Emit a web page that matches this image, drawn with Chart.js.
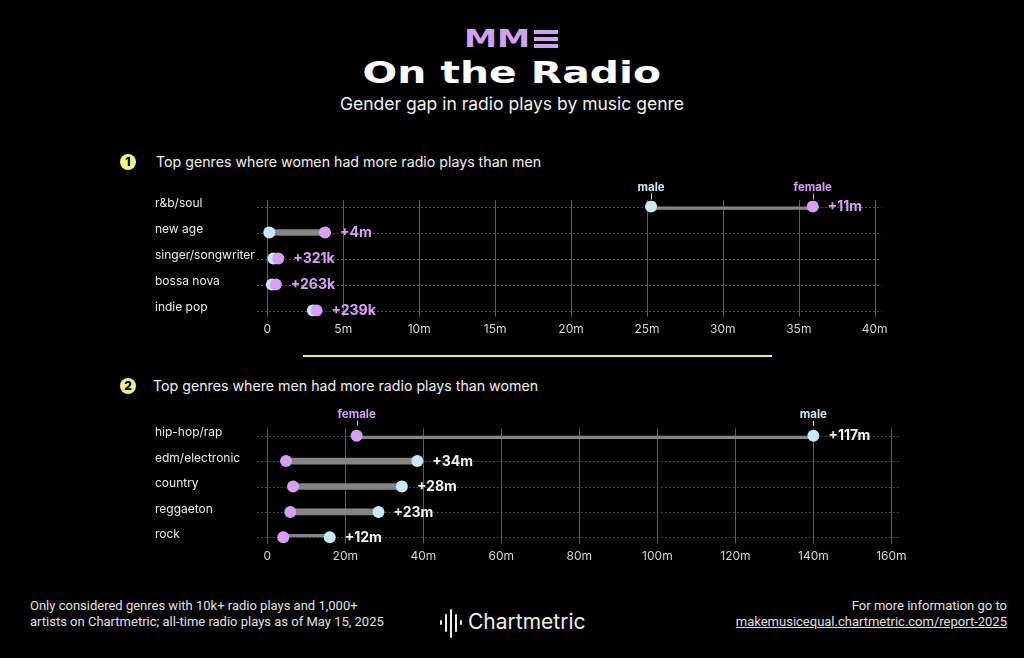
<!DOCTYPE html>
<html><head><meta charset="utf-8">
<script src="https://cdn.jsdelivr.net/npm/chart.js@4.4.1/dist/chart.umd.min.js"></script>
<style>
html,body{margin:0;padding:0;background:#000;}
body{width:1024px;height:658px;position:relative;overflow:hidden;font-family:Inter,"Noto Sans",sans-serif;color:#fff;}
.abs{position:absolute;white-space:nowrap;}
.logo{left:464px;top:24px;font-family:"DejaVu Sans";font-weight:bold;font-size:25px;line-height:30px;color:#cfa3f3;transform:scaleX(1.33);transform-origin:left center;}
.ebar{position:absolute;left:534px;width:24px;height:4px;background:#cfa3f3;}
.title{left:0;width:1024px;top:56px;text-align:center;font-family:"DejaVu Sans";font-weight:bold;font-size:30px;line-height:34px;}
.title span{display:inline-block;transform:scaleX(1.36);}
.subtitle{left:0;width:1024px;top:93px;text-align:center;font-size:17.5px;line-height:22px;color:#f2f2f2;}
.badge{width:16px;height:16px;border-radius:50%;background:#eef28a;color:#000;font-weight:800;font-size:12px;line-height:16px;text-align:center;}
.sec{font-size:14.2px;line-height:20px;color:#f0f0f0;}
.sep{left:303px;top:355px;width:469px;height:2px;background:#e3ec9c;}
.foot{font-family:Roboto,sans-serif;font-size:13px;line-height:16px;color:#e0e0e0;}
.cmbar{position:absolute;width:2px;background:#eee;border-radius:1px;}
canvas{position:absolute;}
</style></head><body>

<div class="abs logo">MM</div>
<div class="ebar" style="top:30px"></div>
<div class="ebar" style="top:37px"></div>
<div class="ebar" style="top:44px"></div>
<div class="abs title"><span>On the Radio</span></div>
<div class="abs subtitle">Gender gap in radio plays by music genre</div>

<div class="abs badge" style="left:120px;top:154px">1</div>
<div class="abs sec" style="left:156px;top:152px">Top genres where women had more radio plays than men</div>
<div class="abs sep"></div>
<div class="abs badge" style="left:120px;top:378px">2</div>
<div class="abs sec" style="left:153px;top:376px">Top genres where men had more radio plays than women</div>

<canvas id="c1" width="820" height="190" style="left:140px;top:160px;width:820px;height:190px"></canvas>
<canvas id="c2" width="820" height="190" style="left:140px;top:390px;width:820px;height:190px"></canvas>

<div class="abs foot" style="left:30px;top:598px">Only considered genres with 10k+ radio plays and 1,000+<br>artists on Chartmetric; all-time radio plays as of May 15, 2025</div>
<div class="abs foot" style="right:17px;top:598px;text-align:right">For more information go to<br><span style="text-decoration:underline">makemusicequal.chartmetric.com/report-2025</span></div>

<div class="cmbar" style="left:440px;top:620px;height:5px"></div>
<div class="cmbar" style="left:445px;top:614px;height:18px"></div>
<div class="cmbar" style="left:450px;top:609px;height:29px"></div>
<div class="cmbar" style="left:455px;top:614px;height:18px"></div>
<div class="cmbar" style="left:460px;top:620px;height:5px"></div>
<div class="abs" style="left:468px;top:608px;font-size:21px;line-height:28px;color:#eee;">Chartmetric</div>

<script>
// ---- Chart 1: genres where women had more radio plays (millions) ----
const genresWomen = ['r&b/soul', 'new age', 'singer/songwriter', 'bossa nova', 'indie pop'];
const womenTopMale = [25.27, 0.13, 0.40, 0.30, 3.00];
const womenTopFemale = [35.92, 3.80, 0.72, 0.56, 3.24];
const womenTopGap = ['+11m', '+4m', '+321k', '+263k', '+239k'];
const ticksWomen = [0, 5, 10, 15, 20, 25, 30, 35, 40];
const tickLabelsWomen = ['0', '5m', '10m', '15m', '20m', '25m', '30m', '35m', '40m'];

// ---- Chart 2: genres where men had more radio plays (millions) ----
const genresMen = ['hip-hop/rap', 'edm/electronic', 'country', 'reggaeton', 'rock'];
const menTopMale = [140.0, 38.45, 34.5, 28.5, 16.0];
const menTopFemale = [22.9, 4.8, 6.6, 5.9, 4.1];
const menTopGap = ['+117m', '+34m', '+28m', '+23m', '+12m'];
const ticksMen = [0, 20, 40, 60, 80, 100, 120, 140, 160];
const tickLabelsMen = ['0', '20m', '40m', '60m', '80m', '100m', '120m', '140m', '160m'];

const MALE_COLOR = '#c6e8f8';
const FEMALE_COLOR = '#d8a0f5';
const FONT = 'Inter, "Noto Sans", sans-serif';

function dumbbellPlugin(o) {
  return {
    id: 'dumbbell',
    beforeDatasetsDraw(chart) {
      const ctx = chart.ctx, a = chart.chartArea, xs = chart.scales.x, ys = chart.scales.y;
      ctx.save();
      ctx.lineWidth = 1;
      ctx.strokeStyle = '#4d4d4d';
      ctx.setLineDash([2, 2]);
      o.labels.forEach((l, i) => {
        const y = Math.round(ys.getPixelForValue(i)) + 0.5;
        ctx.beginPath(); ctx.moveTo(a.left, y); ctx.lineTo(a.right, y); ctx.stroke();
      });
      ctx.setLineDash([]);
      ctx.strokeStyle = '#5e5e5e';
      o.ticks.forEach(v => {
        const x = Math.round(xs.getPixelForValue(v)) + 0.5;
        ctx.beginPath(); ctx.moveTo(x, a.top - o.extTop); ctx.lineTo(x, a.bottom + o.extBottom); ctx.stroke();
      });
      ctx.restore();
    },
    afterDatasetsDraw(chart) {
      const ctx = chart.ctx, xs = chart.scales.x, ys = chart.scales.y;
      ctx.save();
      ctx.textAlign = 'left';
      ctx.textBaseline = 'middle';
      ctx.fillStyle = '#ececec';
      ctx.font = '400 12px ' + FONT;
      o.labels.forEach((l, i) => ctx.fillText(l, o.labelX, ys.getPixelForValue(i) - 3));
      ctx.font = '700 14px ' + FONT;
      ctx.fillStyle = o.gapColor;
      o.gaps.forEach((g, i) => {
        const v = Math.max(o.male[i], o.female[i]);
        ctx.fillText(g, xs.getPixelForValue(v) + 15, ys.getPixelForValue(i) + 0.5);
      });
      // series annotations above the first row
      const y0 = ys.getPixelForValue(0);
      ctx.textAlign = 'center';
      ctx.font = '700 11.5px ' + FONT;
      [[o.male[0], 'male', MALE_COLOR], [o.female[0], 'female', FEMALE_COLOR]].forEach(([v, t, c]) => {
        const x = xs.getPixelForValue(v);
        ctx.fillStyle = c;
        ctx.fillText(t, x, y0 - o.annText);
        ctx.strokeStyle = c; ctx.lineWidth = 1;
        ctx.beginPath();
        ctx.moveTo(Math.round(x) + 0.5, y0 - o.annTickTop);
        ctx.lineTo(Math.round(x) + 0.5, y0 - o.annTickBottom);
        ctx.stroke();
      });
      ctx.restore();
    }
  };
}

function makeChart(id, o) {
  const ctx = document.getElementById(id);
  return new Chart(ctx, {
    type: 'bar',
    data: {
      labels: o.labels,
      datasets: [
        {
          type: 'bar', indexAxis: 'y', order: 3,
          data: o.male.map((m, i) => [Math.min(m, o.female[i]), Math.max(m, o.female[i])]),
          backgroundColor: '#858585', barThickness: 6, borderSkipped: false
        },
        {
          type: 'line', indexAxis: 'y', order: 2, data: o.male, showLine: false,
          pointRadius: 6, pointBackgroundColor: MALE_COLOR, pointBorderWidth: 0, pointHoverRadius: 6
        },
        {
          type: 'line', indexAxis: 'y', order: 1, data: o.female, showLine: false,
          pointRadius: 6, pointBackgroundColor: FEMALE_COLOR, pointBorderWidth: 0, pointHoverRadius: 6
        }
      ]
    },
    options: {
      indexAxis: 'y',
      responsive: false,
      animation: false,
      devicePixelRatio: 1,
      layout: { padding: o.padding },
      plugins: { legend: { display: false }, tooltip: { enabled: false } },
      scales: {
        y: { type: 'category', display: false, offset: false, grid: { display: false } },
        x: {
          type: 'linear', min: o.min, max: o.max,
          grid: { display: false, drawTicks: false },
          border: { display: false },
          afterBuildTicks: s => { s.ticks = o.ticks.map(v => ({ value: v })); },
          afterFit: s => { s.height = 30; },
          ticks: {
            color: '#d4d4d4', padding: o.tickPad, maxRotation: 0, autoSkip: false,
            font: { family: FONT, size: 12 },
            callback: v => o.tickLabels[o.ticks.indexOf(v)]
          }
        }
      }
    },
    plugins: [dumbbellPlugin(o)]
  });
}

makeChart('c1', {
  labels: genresWomen, male: womenTopMale, female: womenTopFemale, gaps: womenTopGap,
  ticks: ticksWomen, tickLabels: tickLabelsWomen, min: -0.68, max: 40.46,
  padding: { left: 117, right: 78.3, top: 46.5, bottom: 9.5 }, tickPad: 12,
  extTop: 6.5, extBottom: 6, labelX: 15, gapColor: FEMALE_COLOR,
  annText: 19, annTickTop: 13, annTickBottom: 7
});

makeChart('c2', {
  labels: genresMen, male: menTopMale, female: menTopFemale, gaps: menTopGap,
  ticks: ticksMen, tickLabels: tickLabelsMen, min: -2.72, max: 162.2,
  padding: { left: 116.7, right: 60, top: 45.7, bottom: 12.7 }, tickPad: 12,
  extTop: 7, extBottom: 6, labelX: 15, gapColor: '#f4f4f4',
  annText: 21, annTickTop: 15, annTickBottom: 10
});
</script>
</body></html>
